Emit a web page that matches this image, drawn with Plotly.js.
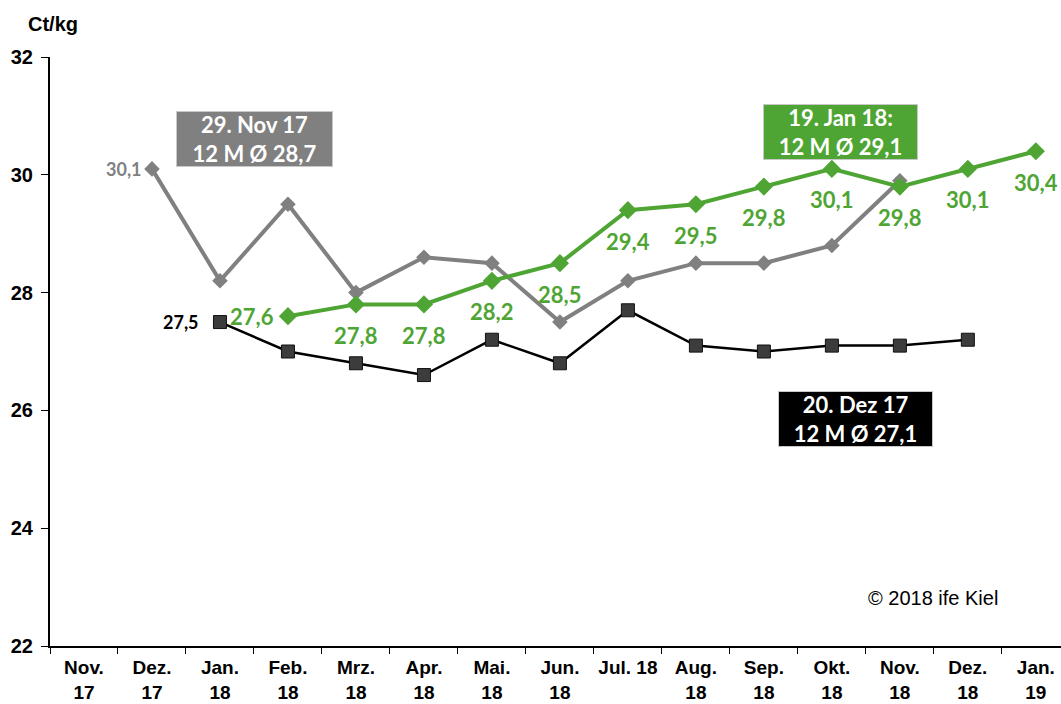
<!DOCTYPE html>
<html>
<head>
<meta charset="utf-8">
<script src="https://cdn.plot.ly/plotly-3.0.1.min.js"></script>
<style>html,body{margin:0;padding:0;background:#fff;}#chart{width:1061px;height:704px;}</style>
</head>
<body>
<div id="chart"></div>
<script>
// Categories (months) and their displayed tick labels
const categories = ['Nov. 17','Dez. 17','Jan. 18','Feb. 18','Mrz. 18','Apr. 18','Mai. 18','Jun. 18','Jul. 18','Aug. 18','Sep. 18','Okt. 18','Nov. 18','Dez. 18','Jan. 19'];
const tickLabels = ['Nov.<br>17','Dez.<br>17','Jan.<br>18','Feb.<br>18','Mrz.<br>18','Apr.<br>18','Mai.<br>18','Jun.<br>18','Jul. 18','Aug.<br>18','Sep.<br>18','Okt.<br>18','Nov.<br>18','Dez.<br>18','Jan.<br>19'];

// Series: 20. Dez 17 (black)
const blackX = ['Jan. 18','Feb. 18','Mrz. 18','Apr. 18','Mai. 18','Jun. 18','Jul. 18','Aug. 18','Sep. 18','Okt. 18','Nov. 18','Dez. 18'];
const blackY = [27.5, 27.0, 26.8, 26.6, 27.2, 26.8, 27.7, 27.1, 27.0, 27.1, 27.1, 27.2];

// Series: 29. Nov 17 (gray)
const grayX = ['Dez. 17','Jan. 18','Feb. 18','Mrz. 18','Apr. 18','Mai. 18','Jun. 18','Jul. 18','Aug. 18','Sep. 18','Okt. 18','Nov. 18'];
const grayY = [30.1, 28.2, 29.5, 28.0, 28.6, 28.5, 27.5, 28.2, 28.5, 28.5, 28.8, 29.9];

// Series: 19. Jan 18 (green)
const greenX = ['Feb. 18','Mrz. 18','Apr. 18','Mai. 18','Jun. 18','Jul. 18','Aug. 18','Sep. 18','Okt. 18','Nov. 18','Dez. 18','Jan. 19'];
const greenY = [27.6, 27.8, 27.8, 28.2, 28.5, 29.4, 29.5, 29.8, 30.1, 29.8, 30.1, 30.4];

const fmt = v => v.toFixed(1).replace('.', ',');
const GREEN = '#4FA534', GRAY = '#808080';
const labelFont = 'Lato, "Open Sans", sans-serif';
const arial = '"Liberation Sans", Arial, sans-serif';

const traces = [
  {
    x: blackX, y: blackY, type: 'scatter', mode: 'lines+markers',
    line: {color: '#000000', width: 2.5},
    marker: {symbol: 'square', size: 13, color: '#3c3c3c', line: {color: '#111', width: 1}},
    cliponaxis: false, hoverinfo: 'skip'
  },
  {
    x: grayX, y: grayY, type: 'scatter', mode: 'lines+markers',
    line: {color: GRAY, width: 4},
    marker: {symbol: 'diamond', size: 12, color: GRAY},
    cliponaxis: false, hoverinfo: 'skip'
  },
  {
    x: greenX, y: greenY, type: 'scatter', mode: 'lines+markers',
    line: {color: GREEN, width: 4},
    marker: {symbol: 'diamond', size: 14, color: GREEN},
    cliponaxis: false, hoverinfo: 'skip'
  }
];

// data labels (positioned by data coordinates)
const labelAnns = [];
greenX.forEach((x, i) => {
  const first = i === 0;
  labelAnns.push({
    xref: 'x', yref: 'y', x: x, y: greenY[i], text: fmt(greenY[i]), showarrow: false,
    xanchor: first ? 'right' : 'center', yanchor: 'middle',
    xshift: first ? -12 : 0, yshift: first ? 0 : -31,
    font: {family: labelFont, size: 22, color: GREEN, weight: 'bold'}
  });
});
labelAnns.push({
  xref: 'x', yref: 'y', x: grayX[0], y: grayY[0], text: fmt(grayY[0]), showarrow: false,
  xanchor: 'right', yanchor: 'middle', xshift: -8,
  font: {family: labelFont, size: 18, color: GRAY, weight: 'bold'}
});
labelAnns.push({
  xref: 'x', yref: 'y', x: blackX[0], y: blackY[0], text: fmt(blackY[0]), showarrow: false,
  xanchor: 'right', yanchor: 'middle', xshift: -19,
  font: {family: labelFont, size: 18, color: '#000', weight: 'bold'}
});

const boxFont = {family: labelFont, size: 22, color: '#ffffff', weight: 'bold'};
const layout = {
  width: 1061, height: 704,
  margin: {l: 50, r: 0, t: 57, b: 58},
  paper_bgcolor: '#ffffff', plot_bgcolor: '#ffffff',
  showlegend: false,
  xaxis: {
    type: 'category', categoryorder: 'array', categoryarray: categories,
    range: [-0.5, 14.37],
    tickmode: 'array', tickvals: categories, ticktext: tickLabels,
    tickson: 'boundaries', ticks: 'outside', ticklen: 6, tickcolor: '#000', tickwidth: 1,
    tickangle: 0, ticklabelstandoff: 4,
    showline: true, linecolor: '#000', linewidth: 1.5,
    showgrid: false, zeroline: false,
    tickfont: {family: arial, size: 19, color: '#000', weight: 'bold'}
  },
  yaxis: {
    range: [22, 32], dtick: 2, tick0: 22,
    ticks: 'outside', ticklen: 7, tickcolor: '#000', tickwidth: 1,
    ticklabelstandoff: 4,
    showline: true, linecolor: '#000', linewidth: 2,
    showgrid: false, zeroline: false,
    tickfont: {family: arial, size: 20, color: '#000', weight: 'bold'}
  },
  annotations: [
    {xref: 'paper', yref: 'paper', x: (26 - 50) / 1011, y: (646 - 24) / 589, xanchor: 'left', yanchor: 'middle',
     text: 'Ct/kg', showarrow: false,
     font: {family: arial, size: 20, color: '#000', weight: 'bold'}},
    {xref: 'x', yref: 'y', x: 2.507, y: 30.61, text: '29. Nov 17<br>12 M Ø 28,7', showarrow: false,
     bgcolor: GRAY, bordercolor: '#c8c8c8', borderwidth: 1, borderpad: 1, width: 153, height: 52,
     font: boxFont},
    {xref: 'x', yref: 'y', x: 11.12, y: 30.72, text: '19. Jan 18:<br>12 M Ø 29,1', showarrow: false,
     bgcolor: GREEN, bordercolor: '#c8c8c8', borderwidth: 1, borderpad: 1, width: 151, height: 52,
     font: boxFont},
    {xref: 'x', yref: 'y', x: 11.35, y: 25.85, text: '20. Dez 17<br>12 M Ø 27,1', showarrow: false,
     bgcolor: '#000000', bordercolor: '#c8c8c8', borderwidth: 1, borderpad: 1, width: 151, height: 52,
     font: boxFont},
    {xref: 'paper', yref: 'paper', x: (933 - 50) / 1011, y: (646 - 598) / 589, xanchor: 'center', yanchor: 'middle',
     text: '© 2018 ife Kiel', showarrow: false,
     font: {family: arial, size: 20, color: '#000'}}
  ].concat(labelAnns)
};

Plotly.newPlot('chart', traces, layout, {staticPlot: true, displayModeBar: false});
</script>
</body>
</html>
